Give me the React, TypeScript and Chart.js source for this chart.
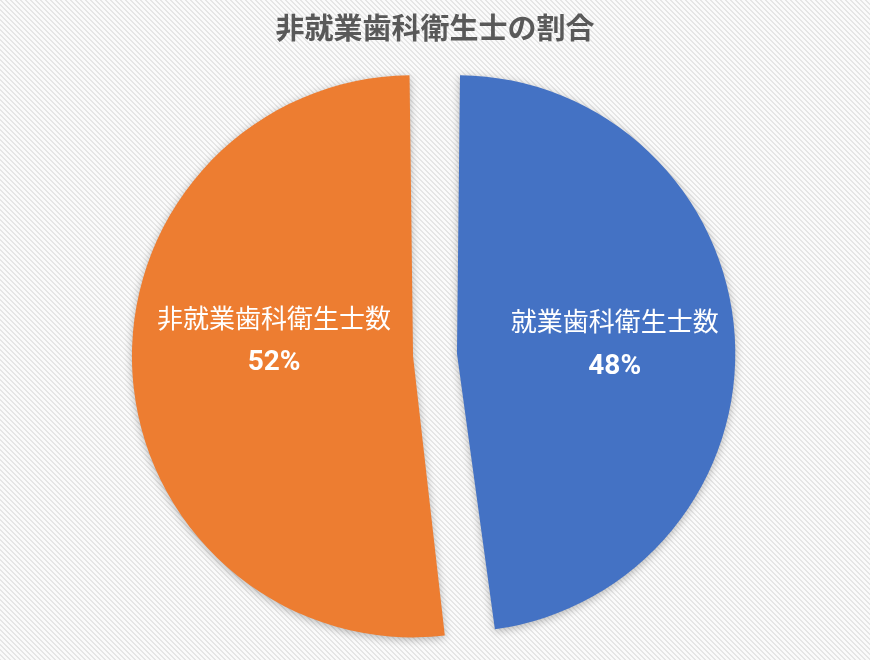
import React, { useEffect, useRef } from 'react';
import { Chart, registerables, Plugin } from 'chart.js';

Chart.register(...registerables);

// 表示データ
const TITLE = '非就業歯科衛生士の割合';
const LABELS = ['就業歯科衛生士数', '非就業歯科衛生士数'];
const VALUES = [48, 52];
const COLORS = ['#4472C4', '#ED7D31'];

const CJK = '"Noto Sans CJK JP", "Noto Sans", sans-serif';

// 斜線の背景パターン
function makePattern(ctx: CanvasRenderingContext2D) {
  const n = 5;
  const tile = document.createElement('canvas');
  tile.width = n;
  tile.height = n;
  const t = tile.getContext('2d')!;
  t.fillStyle = '#fbfbfb';
  t.fillRect(0, 0, n, n);
  t.fillStyle = '#e6e6e6';
  for (let i = 0; i < n; i++) {
    t.fillRect(i, i, 1, 1);
    t.fillRect((i + 1) % n, i, 1, 1);
  }
  return ctx.createPattern(tile, 'repeat');
}

const backgroundPlugin: Plugin<'pie'> = {
  id: 'stripeBackground',
  beforeDraw(chart) {
    const { ctx, width, height } = chart;
    ctx.save();
    const p = makePattern(ctx);
    if (p) ctx.fillStyle = p;
    ctx.fillRect(0, 0, width, height);
    ctx.restore();
  },
};

const shadowPlugin: Plugin<'pie'> = {
  id: 'sliceShadow',
  beforeDatasetsDraw(chart) {
    const { ctx } = chart;
    ctx.save();
    ctx.shadowColor = 'rgba(0,0,0,0.28)';
    ctx.shadowBlur = 9;
    ctx.shadowOffsetX = 0;
    ctx.shadowOffsetY = 2;
  },
  afterDatasetsDraw(chart) {
    chart.ctx.restore();
  },
};

// スライス内のラベル (名前 + 百分率)
const labelPlugin: Plugin<'pie'> = {
  id: 'sliceLabels',
  afterDatasetsDraw(chart) {
    const { ctx } = chart;
    const meta = chart.getDatasetMeta(0);
    const total = VALUES.reduce((a, b) => a + b, 0);
    // 位置の微調整 (半径に対する割合, 角度のずれ)
    const tweak = [
      { k: 0.61, da: 0 },
      { k: 0.54, da: 0.178 },
    ];
    meta.data.forEach((el: any, i: number) => {
      const { x, y, startAngle, endAngle, outerRadius } = el.getProps(
        ['x', 'y', 'startAngle', 'endAngle', 'outerRadius'],
        true
      );
      const off = (el.options.offset || 0) / 4;
      const half = (startAngle + endAngle) / 2;
      const cx = x + Math.cos(half) * off;
      const cy = y + Math.sin(half) * off;
      const a = half + tweak[i].da;
      const r = outerRadius * tweak[i].k;
      const lx = cx + Math.cos(a) * r;
      const ly = cy + Math.sin(a) * r;
      ctx.save();
      ctx.fillStyle = '#ffffff';
      ctx.textAlign = 'center';
      ctx.textBaseline = 'middle';
      ctx.font = `26px ${CJK}`;
      ctx.fillText(LABELS[i], lx, ly - 22);
      ctx.font = 'bold 28px Roboto, "Noto Sans", sans-serif';
      ctx.fillText(`${Math.round((VALUES[i] / total) * 100)}%`, lx, ly + 23);
      ctx.restore();
    });
  },
};

const App: React.FC = () => {
  const chartRef = useRef<HTMLCanvasElement>(null);
  const chartInstance = useRef<Chart<'pie'> | null>(null);

  useEffect(() => {
    document.body.style.margin = '0';
    if (!chartRef.current) return;
    if (chartInstance.current) chartInstance.current.destroy();

    chartInstance.current = new Chart(chartRef.current, {
      type: 'pie',
      data: {
        labels: LABELS,
        datasets: [
          {
            data: VALUES,
            backgroundColor: COLORS,
            borderWidth: 0,
            offset: 88,
            hoverOffset: 0,
          },
        ],
      },
      options: {
        responsive: false,
        animation: false,
        layout: { padding: { bottom: 2 } },
        plugins: {
          legend: { display: false },
          tooltip: { enabled: false },
          title: {
            display: true,
            text: TITLE,
            color: '#595959',
            font: { family: CJK, size: 29, weight: 'bold' },
            padding: { top: 11, bottom: 6 },
          },
        },
      },
      plugins: [backgroundPlugin, shadowPlugin, labelPlugin],
    });

    return () => {
      chartInstance.current?.destroy();
      chartInstance.current = null;
    };
  }, []);

  return (
    <div style={{ width: 870, height: 660 }}>
      <canvas ref={chartRef} width={870} height={660} />
    </div>
  );
};

export default App;
